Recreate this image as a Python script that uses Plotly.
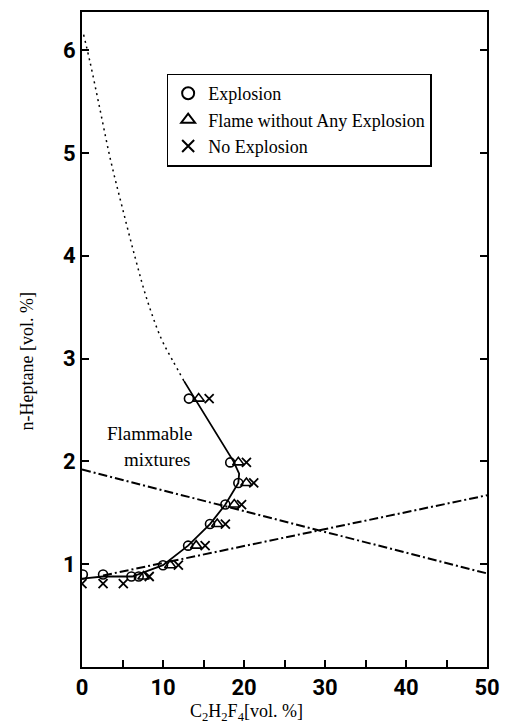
import plotly.graph_objects as go

# ---- data ----
explosion_x = [0.1, 2.6, 6.1, 7.0, 10.0, 13.1, 15.8, 17.7, 19.3, 18.3, 13.2]
explosion_y = [0.90, 0.90, 0.88, 0.88, 0.99, 1.18, 1.39, 1.58, 1.79, 1.99, 2.61]

flame_x = [7.6, 10.9, 14.1, 16.7, 18.8, 20.3, 19.3, 14.4]
flame_y = [0.88, 0.99, 1.18, 1.39, 1.58, 1.79, 1.99, 2.61]

noexp_x = [0.0, 2.6, 5.1, 8.3, 11.9, 15.2, 17.7, 19.7, 21.2, 20.3, 15.7]
noexp_y = [0.81, 0.81, 0.81, 0.88, 0.99, 1.18, 1.39, 1.58, 1.79, 1.99, 2.61]

boundary_x = [0.0, 2.6, 6.2, 10.0, 13.1, 15.8, 17.7, 19.3, 19.4, 18.7, 12.6]
boundary_y = [0.86, 0.88, 0.88, 0.99, 1.18, 1.39, 1.58, 1.79, 1.88, 2.00, 2.78]

extrap_x = [0.2, 1.0, 2.2, 3.5, 5.0, 6.6, 8.0, 9.8, 11.2, 12.6]
extrap_y = [6.15, 5.88, 5.43, 4.94, 4.46, 3.97, 3.58, 3.19, 2.98, 2.78]

lineA_x = [0.0, 50.0]
lineA_y = [1.92, 0.91]
lineB_x = [2.6, 50.0]
lineB_y = [0.89, 1.67]

x_ticks = [0, 10, 20, 30, 40, 50]
y_ticks = [1, 2, 3, 4, 5, 6]

SERIF = "Liberation Serif, Times New Roman, serif"
NARROW = "Roboto, Liberation Sans, Arial, sans-serif"

fig = go.Figure()

fig.add_trace(go.Scatter(x=extrap_x, y=extrap_y, mode="lines", showlegend=False,
                         line=dict(color="black", width=1.5, dash="2px,4px", shape="spline"),
                         hoverinfo="skip"))
fig.add_trace(go.Scatter(x=lineA_x, y=lineA_y, mode="lines", showlegend=False,
                         line=dict(color="black", width=2, dash="9px,3px,2px,3px"), hoverinfo="skip"))
fig.add_trace(go.Scatter(x=lineB_x, y=lineB_y, mode="lines", showlegend=False,
                         line=dict(color="black", width=2, dash="9px,3px,2px,3px"), hoverinfo="skip"))
fig.add_trace(go.Scatter(x=boundary_x, y=boundary_y, mode="lines", showlegend=False,
                         line=dict(color="black", width=1.8), hoverinfo="skip"))

fig.add_trace(go.Scatter(x=explosion_x, y=explosion_y, mode="markers", name="Explosion",
                         marker=dict(symbol="circle-open", size=9, color="black",
                                     line=dict(width=1.6, color="black"))))
fig.add_trace(go.Scatter(x=flame_x, y=flame_y, mode="markers", name="Flame without Any Explosion",
                         marker=dict(symbol="triangle-up-open", size=10, color="black",
                                     line=dict(width=1.6, color="black"))))
fig.add_trace(go.Scatter(x=noexp_x, y=noexp_y, mode="markers", name="No Explosion",
                         marker=dict(symbol="x-thin-open", size=9, color="black",
                                     line=dict(width=1.8, color="black"))))

fig.update_layout(
    width=510, height=726,
    margin=dict(l=82, r=16, t=10, b=59),
    paper_bgcolor="white", plot_bgcolor="white",
    showlegend=True,
    legend=dict(x=0.209, y=0.906, xanchor="left", yanchor="top",
                bgcolor="white", bordercolor="black", borderwidth=1.5,
                font=dict(family=SERIF, size=18, color="black"),
                itemsizing="constant", itemwidth=30, tracegroupgap=0),
    xaxis=dict(range=[0, 50], tickvals=x_ticks, ticks="inside", ticklen=7, tickwidth=1.5,
               tickcolor="black", showgrid=False, zeroline=False,
               showline=True, linecolor="black", linewidth=2, mirror=True,
               minor=dict(dtick=5, ticks="inside", ticklen=7, tickwidth=1.5, tickcolor="black"),
               tickfont=dict(family=NARROW, size=22, color="black", weight="bold")),
    yaxis=dict(range=[0, 6.37], tickvals=y_ticks, ticks="inside", ticklen=7, tickwidth=1.5,
               tickcolor="black", showgrid=False, zeroline=False,
               showline=True, linecolor="black", linewidth=2, mirror="allticks",
               tickfont=dict(family=NARROW, size=22, color="black", weight="bold")),
    annotations=[
        dict(x=8.3, y=2.27, xref="x", yref="y", text="Flammable", showarrow=False,
             font=dict(family=SERIF, size=19, color="black")),
        dict(x=9.3, y=2.02, xref="x", yref="y", text="mixtures", showarrow=False,
             font=dict(family=SERIF, size=19, color="black")),
        dict(x=0.405, y=-0.069, xref="paper", yref="paper", xanchor="center", yanchor="middle",
             text="C<sub>2</sub>H<sub>2</sub>F<sub>4</sub>[vol. %]", showarrow=False,
             font=dict(family=SERIF, size=18, color="black")),
        dict(x=-0.135, y=0.467, xref="paper", yref="paper", xanchor="center", yanchor="middle",
             textangle=-90, text="n-Heptane [vol. %]", showarrow=False,
             font=dict(family=SERIF, size=18, color="black")),
    ],
)

fig.write_html("out.html")
